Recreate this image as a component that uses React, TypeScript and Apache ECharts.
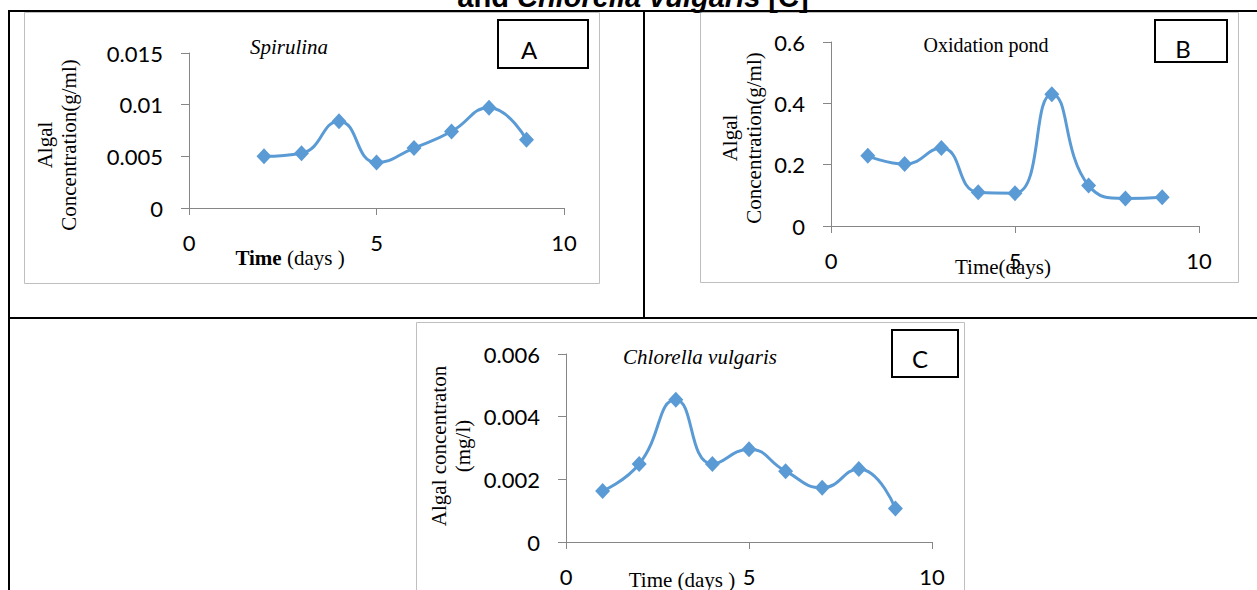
import React, { useEffect, useRef } from "react";
import * as echarts from "echarts";

// ---- data ----
const daysA = [2, 3, 4, 5, 6, 7, 8, 9];
const spirulina = [0.005, 0.0053, 0.0084, 0.0044, 0.0058, 0.0074, 0.0097, 0.0066];

const daysB = [1, 2, 3, 4, 5, 6, 7, 8, 9];
const oxidationPond = [0.229, 0.202, 0.254, 0.11, 0.107, 0.43, 0.132, 0.09, 0.094];

const daysC = [1, 2, 3, 4, 5, 6, 7, 8, 9];
const chlorella = [0.00163, 0.00249, 0.00454, 0.00249, 0.00296, 0.00226, 0.00173, 0.00233, 0.00107];

const xTicks = { min: 0, max: 10, interval: 5 };
const yTicksA = { min: 0, max: 0.015, interval: 0.005 };
const yTicksB = { min: 0, max: 0.6, interval: 0.2 };
const yTicksC = { min: 0, max: 0.006, interval: 0.002 };

const titleText = "and {i|Chlorella vulgaris} [C]";
const panelTitles = ["Spirulina", "Oxidation pond", "Chlorella vulgaris"];
const panelLetters = ["A", "B", "C"];
const yNames = ["Algal\nConcentration(g/ml)", "Algal\nConcentration(g/ml)", "Algal concentraton\n(mg/l)"];

const LINE = "#5B9BD5";
const AXIS = "#868686";
const SERIF = "'Liberation Serif', 'Times New Roman', serif";
const SANS = "Lato, 'Open Sans', sans-serif";

function mkX(gridIndex: number) {
  return {
    type: "value",
    gridIndex,
    ...xTicks,
    axisLine: { show: true, onZero: false, lineStyle: { color: AXIS, width: 1 } },
    axisTick: { show: true, length: 7, lineStyle: { color: AXIS } },
    axisLabel: { color: "#000", fontFamily: SANS, fontSize: 22, margin: 23 },
    splitLine: { show: false },
  };
}
function mkY(gridIndex: number, t: any) {
  return {
    type: "value",
    gridIndex,
    ...t,
    axisLine: { show: true, lineStyle: { color: AXIS, width: 1 } },
    axisTick: { show: true, length: 8, lineStyle: { color: AXIS } },
    axisLabel: { color: "#000", fontFamily: SANS, fontSize: 22, margin: 26 },
    splitLine: { show: false },
  };
}
function mkSeries(i: number, xs: number[], ys: number[]) {
  return {
    type: "line",
    xAxisIndex: i,
    yAxisIndex: i,
    data: xs.map((x, k) => [x, ys[k]]),
    smooth: true,
    symbol: "diamond",
    symbolSize: [15, 16],
    lineStyle: { color: LINE, width: 3 },
    itemStyle: { color: LINE },
    z: 5,
  };
}

export default function App() {
  const ref = useRef<HTMLDivElement>(null);
  useEffect(() => {
    if (!ref.current) return;
    const chart = echarts.init(ref.current, undefined, { renderer: "svg" });
    const line = (x1: number, y1: number, x2: number, y2: number, color: string, w: number) => ({
      type: "line",
      shape: { x1, y1, x2, y2 },
      style: { stroke: color, lineWidth: w },
      z: 1,
    });
    const rect = (x: number, y: number, w: number, h: number, color: string, lw: number) => ({
      type: "rect",
      shape: { x, y, width: w, height: h },
      style: { fill: "none", stroke: color, lineWidth: lw },
      z: 1,
    });
    const text = (x: number, y: number, t: string, extra: any = {}, rot = 0) => ({
      type: "text",
      x,
      y,
      rotation: rot,
      style: {
        text: t,
        fill: "#000",
        fontFamily: SERIF,
        fontSize: 21,
        align: "center",
        verticalAlign: "middle",
        ...extra,
      },
      z: 3,
    });

    const graphic: any[] = [
      // title (cut off at top)
      text(633, -3, titleText, {
        fontFamily: "'Liberation Sans', Arial, sans-serif",
        fontWeight: "bold",
        fontSize: 29,
        rich: {
          i: {
            fontFamily: "'Liberation Sans', Arial, sans-serif",
            fontWeight: "bold",
            fontStyle: "italic",
            fontSize: 29,
          },
        },
      }),
      // table lines
      line(8, 11, 1257, 11, "#000", 2),
      line(9, 10, 9, 590, "#000", 2),
      line(644, 11, 644, 318, "#000", 2),
      line(8, 318, 1257, 318, "#000", 2),
      // panel frames
      rect(24.5, 12.5, 575, 271, "#BFBFBF", 1),
      rect(700.5, 12.5, 538, 270, "#BFBFBF", 1),
      rect(416.5, 322.5, 548, 280, "#BFBFBF", 1),
      // letter boxes
      rect(498, 20, 90, 48, "#000", 2),
      rect(1155, 20, 72, 42, "#000", 2),
      rect(892, 330, 66, 47, "#000", 2),
      text(529, 49, panelLetters[0], { fontFamily: SANS, fontSize: 24 }),
      text(1183, 48.5, panelLetters[1], { fontFamily: SANS, fontSize: 24 }),
      text(920, 358, panelLetters[2], { fontFamily: SANS, fontSize: 24 }),
      // panel titles
      text(289, 47, panelTitles[0], { fontStyle: "italic" }),
      text(986, 45, panelTitles[1], { fontSize: 20 }),
      text(700, 357, panelTitles[2], { fontStyle: "italic" }),
      // x-axis names
      text(290, 258, "{b|Time} (days )", {
        rich: { b: { fontFamily: SERIF, fontSize: 21, fontWeight: "bold" } },
      }),
      text(1003, 267, "Time(days)"),
      text(682, 580, "Time (days )"),
      // y-axis names
      text(57, 145, yNames[0], { lineHeight: 24 }, Math.PI / 2),
      text(741.5, 138, yNames[1], { lineHeight: 24 }, Math.PI / 2),
      text(451, 446, yNames[2], { lineHeight: 24 }, Math.PI / 2),
    ];

    chart.setOption({
      animation: false,
      grid: [
        { left: 189, top: 53, width: 375, height: 155 },
        { left: 831, top: 42, width: 368, height: 184 },
        { left: 566, top: 354, width: 366, height: 188 },
      ],
      xAxis: [mkX(0), mkX(1), mkX(2)],
      yAxis: [mkY(0, yTicksA), mkY(1, yTicksB), mkY(2, yTicksC)],
      series: [
        mkSeries(0, daysA, spirulina),
        mkSeries(1, daysB, oxidationPond),
        mkSeries(2, daysC, chlorella),
      ],
      graphic,
    });
    return () => chart.dispose();
  }, []);
  return (
    <div
      ref={ref}
      style={{ position: "fixed", left: 0, top: 0, width: 1257, height: 590, background: "#fff" }}
    />
  );
}
